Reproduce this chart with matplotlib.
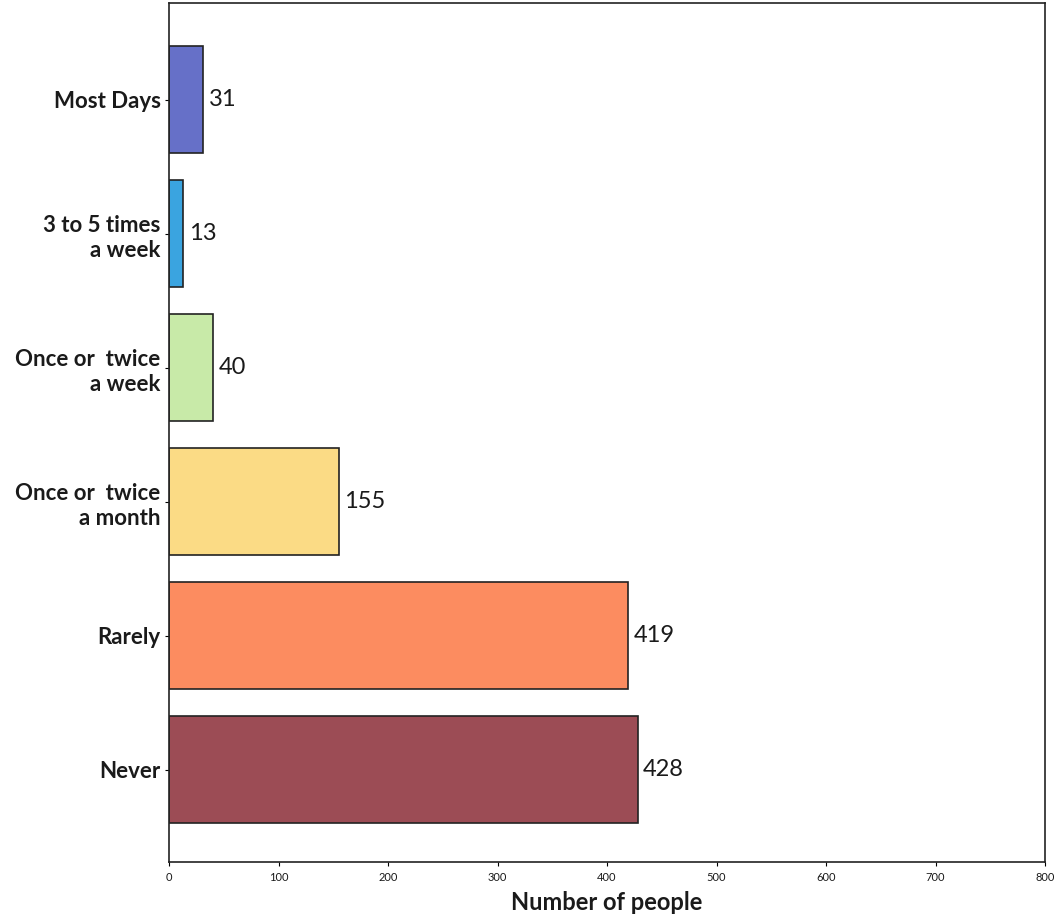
import matplotlib
matplotlib.use("Agg")
import matplotlib.pyplot as plt

categories = ["Most Days", "3 to 5 times\na week", "Once or  twice\na week",
              "Once or  twice\na month", "Rarely", "Never"]
values = [31, 13, 40, 155, 419, 428]
colors = ["#6670c8", "#3aa4e0", "#c8eaa8", "#fbdb85", "#fc8c60", "#9c4c55"]
xticks = [0, 100, 200, 300, 400, 500, 600, 700, 800]

plt.rcParams['font.family'] = ['Lato', 'DejaVu Sans']

fig = plt.figure(figsize=(10.61, 9.17), dpi=100)
ax = fig.add_axes([0.1593, 0.06, 0.8257, 0.9367])

ypos = list(range(len(categories)))[::-1]
bars = ax.barh(ypos, values, height=0.8, color=colors, edgecolor="#222222", linewidth=1.2)
for y, v in zip(ypos, values):
    ax.text(v + 5, y, str(v), va="center", ha="left", fontsize=17, color="#1a1a1a")

ax.set_yticks(ypos)
ax.set_yticklabels(categories, fontsize=16, fontweight="bold", color="#1a1a1a", linespacing=1.25)
ax.set_xticks(xticks)
ax.set_xticklabels([str(t) for t in xticks], fontsize=8, color="#1a1a1a")
ax.set_xlim(0, 800)
ax.set_ylim(-0.69, 5.72)
ax.set_xlabel("Number of people", fontsize=17, fontweight="bold", color="#1a1a1a", labelpad=6)
ax.tick_params(axis="y", length=3, pad=3)
ax.tick_params(axis="x", length=3, pad=4)
for s in ax.spines.values():
    s.set_linewidth(1.2)
    s.set_color("#222222")

fig.savefig("out.png", dpi=100)
